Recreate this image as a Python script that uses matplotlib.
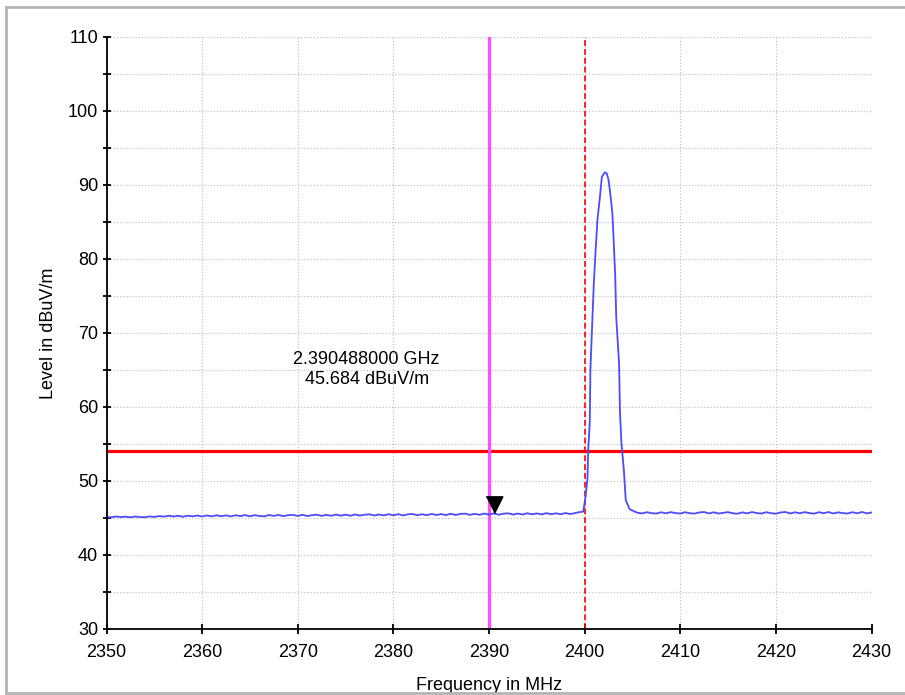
import matplotlib
matplotlib.use('Agg')
import matplotlib.pyplot as plt
import numpy as np
from matplotlib.lines import Line2D
from matplotlib.ticker import MultipleLocator

plt.rcParams['font.family'] = ['Liberation Sans', 'DejaVu Sans']

# === trace ===
# flat noise floor below the carrier, 0.5 MHz steps from 2350 to 2399.5
FREQ_LOW = np.arange(2350.0, 2400.0, 0.5)
LEVEL_LOW = [
    45.15, 45.08, 45.20, 45.12, 45.18, 45.09, 45.19, 45.13, 45.10, 45.21,
    45.14, 45.26, 45.18, 45.30, 45.20, 45.29, 45.17, 45.31, 45.22, 45.33,
    45.20, 45.34, 45.22, 45.36, 45.24, 45.35, 45.21, 45.37, 45.26, 45.39,
    45.23, 45.38, 45.27, 45.22, 45.40, 45.28, 45.41, 45.25, 45.37, 45.42,
    45.27, 45.43, 45.26, 45.39, 45.44, 45.28, 45.42, 45.30, 45.46, 45.31,
    45.45, 45.30, 45.48, 45.32, 45.44, 45.50, 45.33, 45.47, 45.35, 45.51,
    45.36, 45.52, 45.34, 45.49, 45.54, 45.37, 45.51, 45.38, 45.55, 45.40,
    45.53, 45.39, 45.57, 45.41, 45.55, 45.59, 45.42, 45.56, 45.43, 45.60,
    45.45, 45.62, 45.44, 45.58, 45.63, 45.46, 45.60, 45.47, 45.64, 45.49,
    45.62, 45.48, 45.65, 45.51, 45.63, 45.50, 45.67, 45.53, 45.66, 45.80,
]

# carrier around 2402 MHz
FREQ_PEAK = [2399.85, 2400.10, 2400.30, 2400.37, 2400.54, 2400.60, 2400.80,
             2400.96, 2401.17, 2401.34, 2401.60, 2401.80, 2402.10, 2402.30,
             2402.50, 2402.70, 2402.90, 2403.05, 2403.20, 2403.30, 2403.60,
             2403.70, 2403.85, 2404.10, 2404.30, 2404.70, 2405.25]
LEVEL_PEAK = [45.85, 47.9, 50.4, 54.2, 58.0, 65.0, 71.3,
              76.7, 81.7, 85.3, 88.4, 91.1, 91.7, 91.6,
              90.7, 88.6, 86.2, 82.1, 77.6, 72.2, 65.9,
              59.1, 55.1, 51.5, 47.4, 46.2, 45.85]

# noise floor above the carrier, 2405.5 to 2430
FREQ_HIGH = np.arange(2405.5, 2430.01, 0.5)
LEVEL_HIGH = [
    45.72, 45.61, 45.78, 45.65, 45.60, 45.77, 45.63, 45.79, 45.66, 45.60,
    45.78, 45.64, 45.59, 45.75, 45.80, 45.62, 45.77, 45.60, 45.70, 45.79,
    45.63, 45.58, 45.76, 45.62, 45.80, 45.66, 45.60, 45.78, 45.64, 45.58,
    45.75, 45.81, 45.61, 45.77, 45.63, 45.79, 45.66, 45.59, 45.78, 45.64,
    45.80, 45.61, 45.76, 45.66, 45.60, 45.78, 45.63, 45.81, 45.62, 45.74,
]

LIMIT = 54.0            # dBuV/m
BAND_EDGE = 2390.0      # MHz, magenta line
CENTER = 2400.0         # MHz, red dashed line
MARKER_F = 2390.488
MARKER_L = 45.684

C_TRACE = '#4b4bff'
C_LIMIT = '#ff0000'
C_EDGE = '#ff4dff'
C_GRID = '#c4c4c4'

freq = np.concatenate([FREQ_LOW, FREQ_PEAK, FREQ_HIGH])
level = np.concatenate([LEVEL_LOW, LEVEL_PEAK, LEVEL_HIGH])

fig = plt.figure(figsize=(9.05, 6.95), dpi=100)
ax = fig.add_axes([0.1177, 0.095, 0.8453, 0.8518])

ax.set_xlim(2350, 2430)
ax.set_ylim(30, 110)
ax.xaxis.set_major_locator(MultipleLocator(10))
ax.yaxis.set_major_locator(MultipleLocator(10))
ax.yaxis.set_minor_locator(MultipleLocator(5))

ax.grid(True, which='major', axis='x', color=C_GRID, linestyle=(0, (1, 1.5)), linewidth=0.9)
ax.grid(True, which='both', axis='y', color=C_GRID, linestyle=(0, (1, 1.5)), linewidth=0.9)
ax.set_axisbelow(True)

for side in ['top', 'right']:
    ax.spines[side].set_visible(False)
for side in ['left', 'bottom']:
    ax.spines[side].set_linewidth(1.3)
    ax.spines[side].set_zorder(6)

ax.tick_params(axis='both', which='both', direction='inout', width=1.3,
               labelsize=13, color='black')
ax.tick_params(axis='y', which='both', length=6, pad=3)
ax.tick_params(axis='x', which='major', length=7, pad=7)

ax.axhline(LIMIT, color=C_LIMIT, linewidth=2.3, zorder=3)
ax.axvline(BAND_EDGE, color=C_EDGE, linewidth=2.3, zorder=3)
ax.axvline(CENTER, color=C_LIMIT, linewidth=1.2, linestyle=(0, (3.5, 1.8)), zorder=3)

ax.plot(freq, level, color=C_TRACE, linewidth=1.3, zorder=4)

# marker: downward triangle with its tip on the trace
tri = [(-1, 2), (1, 2), (0, 0)]
ax.plot([MARKER_F], [MARKER_L], marker=tri, markersize=24, color='black',
        linestyle='none', zorder=5)
ax.text(2377.2, 65.1, f'{MARKER_F / 1000:.9f} GHz\n{MARKER_L:.3f} dBuV/m',
        ha='center', va='center', fontsize=13, linespacing=1.25, zorder=5)

ax.set_xlabel('Frequency in MHz', fontsize=13)
ax.set_ylabel('Level in dBuV/m', fontsize=13)
ax.xaxis.set_label_coords(0.5, -0.081)
ax.yaxis.set_label_coords(-0.065, 0.5)

# grey frame around the plot window
frame = dict(color='#b4b4b4', linewidth=2.0, transform=fig.transFigure)
fig.add_artist(Line2D([0.0066, 1.0], [0.990, 0.990], **frame))
fig.add_artist(Line2D([0.0066, 0.0066], [0.003, 0.990], **frame))
fig.add_artist(Line2D([0.0066, 1.0], [0.003, 0.003], **frame))

fig.savefig('out.png', dpi=100)
